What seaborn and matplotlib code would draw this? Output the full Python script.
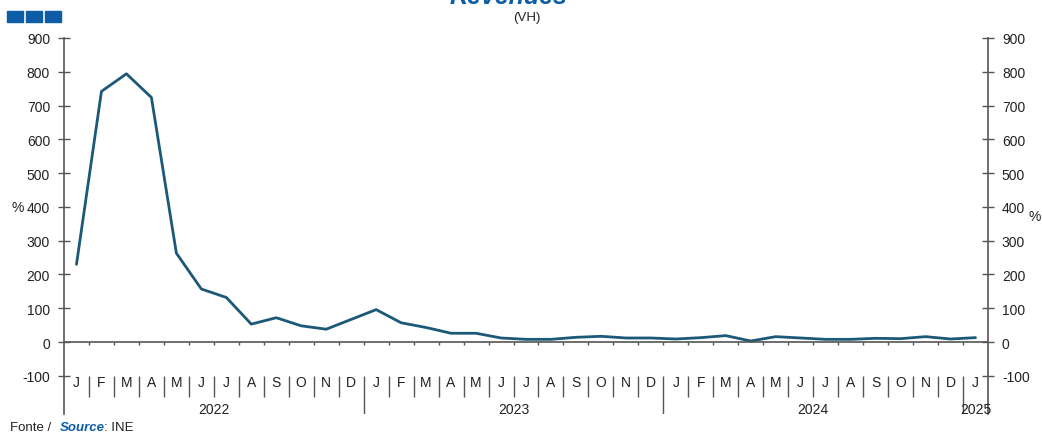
import matplotlib
matplotlib.use("Agg")
import matplotlib.pyplot as plt
import matplotlib.patches as mpatches
import pandas as pd
import seaborn as sns

# monthly year-on-year change of revenues, Jan 2022 - Jan 2025
months = ["J", "F", "M", "A", "M", "J", "J", "A", "S", "O", "N", "D"] * 3 + ["J"]
years = ["2022", "2023", "2024", "2025"]
values = [230, 742, 794, 724, 263, 157, 132, 53, 72, 48, 38, 67,
          96, 57, 43, 26, 26, 12, 8, 8, 14, 17, 12, 12,
          9, 13, 19, 3, 16, 12, 8, 8, 11, 10, 16, 9,
          13]
yticks = [-100, 0, 100, 200, 300, 400, 500, 600, 700, 800, 900]

line_color = "#1c5878"
blue = "#0c5ca6"
grey = "#555555"

sns.set_style("white")
plt.rcParams["font.family"] = ["Liberation Sans", "DejaVu Sans"]

df = pd.DataFrame({"idx": range(len(values)), "val": values})

fig = plt.figure(figsize=(10.42, 4.35), dpi=100)
ax = fig.add_axes([64 / 1042, 20 / 435, 924 / 1042, 376 / 435])

sns.lineplot(data=df, x="idx", y="val", ax=ax, color=line_color, linewidth=2.0)

n = len(values)
ax.set_xlim(-0.5, n - 0.5)
ax.set_ylim(-213, 900)
ax.set_yticks(yticks)
ax.set_yticklabels([str(t) for t in yticks])
ax.set_xticks([])
ax.set_xlabel("")
ax.set_ylabel("")
ax.tick_params(axis="y", direction="inout", length=8, width=1, color=grey,
               labelsize=10, labelcolor="#222222", left=True, right=True,
               labelleft=True, labelright=True, pad=6)
for side in ["top", "bottom"]:
    ax.spines[side].set_visible(False)
for side in ["left", "right"]:
    ax.spines[side].set_color(grey)
    ax.spines[side].set_linewidth(1.2)

# zero line with small month ticks
ax.axhline(0, color=grey, linewidth=1.2)
ax.vlines([i + 0.5 for i in range(n - 1)], -10, 0, color=grey, linewidth=1)

# month labels and separators
for i, m in enumerate(months):
    ax.text(i, -118, m, ha="center", va="center", fontsize=10, color="#222222")
for i in range(1, n):
    if i % 12 == 0:
        ax.vlines(i - 0.5, -100, -213, color=grey, linewidth=1)
    else:
        ax.vlines(i - 0.5, -100, -162, color=grey, linewidth=1)

# year labels
for k, y in enumerate(years):
    start = k * 12
    end = min(start + 12, n)
    ax.text((start + end - 1) / 2, -198, y, ha="center", va="center",
            fontsize=10, color="#222222")

fig.text(18 / 1042, 1 - 208 / 435, "%", ha="center", va="center", fontsize=10, color="#222222")
fig.text(1035 / 1042, 1 - 217 / 435, "%", ha="center", va="center", fontsize=10, color="#222222")

# title (partly cut at top, as in the source) and subtitle
fig.text(508 / 1042, 1 - 4 / 435, "Revenues", ha="center", va="baseline",
         fontsize=18, fontweight="bold", fontstyle="italic", color=blue)
fig.text(527 / 1042, 1 - 18 / 435, "(VH)", ha="center", va="center", fontsize=9.5, color="#222222")

# decorative blue squares
for x0 in [7, 26, 45]:
    fig.patches.append(mpatches.Rectangle((x0 / 1042, 1 - 23 / 435), 16 / 1042, 11 / 435,
                                          transform=fig.transFigure, color=blue))

# source
fig.text(10 / 1042, 1 - 428 / 435, "Fonte /", ha="left", va="center", fontsize=9.5, color="#222222")
fig.text(60 / 1042, 1 - 428 / 435, "Source", ha="left", va="center", fontsize=9.5,
         fontweight="bold", fontstyle="italic", color=blue)
fig.text(104 / 1042, 1 - 428 / 435, ": INE", ha="left", va="center", fontsize=9.5, color="#222222")

fig.savefig("out.png", dpi=100)
